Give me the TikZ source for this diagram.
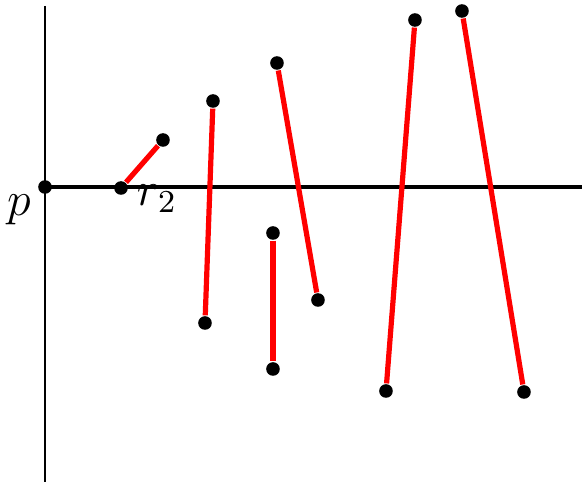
\documentclass[tikz,border=0pt]{standalone}
\usepackage{amsmath,amssymb}
\usepackage{tikz}
\usetikzlibrary{positioning,calc}
\definecolor{segred}{RGB}{255,0,0}

\begin{document}
\begin{tikzpicture}[x=0.25pt,y=-0.25pt,
  dot/.style={circle,fill=black,inner sep=0pt,minimum size=3.4pt},
  seg/.style={line width=1.3pt,segred},
  lbl/.style={font=\fontsize{11.5}{13}\selectfont}]
\useasboundingbox (0,0) rectangle (582,482);
\coordinate (top) at (45,6);
\coordinate (bot) at (45,482);
\coordinate (rgt) at (582,187);
\draw[line width=0.4pt] (top)--(bot);
\draw[line width=1pt] (45,187)--(rgt);
\node[dot] (p) at (45,187) {};
\node[dot] (r2) at (121,188) {};
\node[lbl] (plbl) at (19,210) {$p$};
\node[lbl] (r2lbl) at (157,199) {$r_2$};
\node[dot] (q) at (163,140) {};
\draw[seg] (r2)--(q);
\foreach \i/\xa/\ya/\xb/\yb in {1/213/101/205/323,2/277/63/318/300,3/273/233/273/369,4/415/20/386/391,5/462/11/524/392}{
  \node[dot] (a\i) at (\xa,\ya) {};
  \node[dot] (b\i) at (\xb,\yb) {};
  \draw[seg] (a\i)--(b\i);}
\end{tikzpicture}
\end{document}
